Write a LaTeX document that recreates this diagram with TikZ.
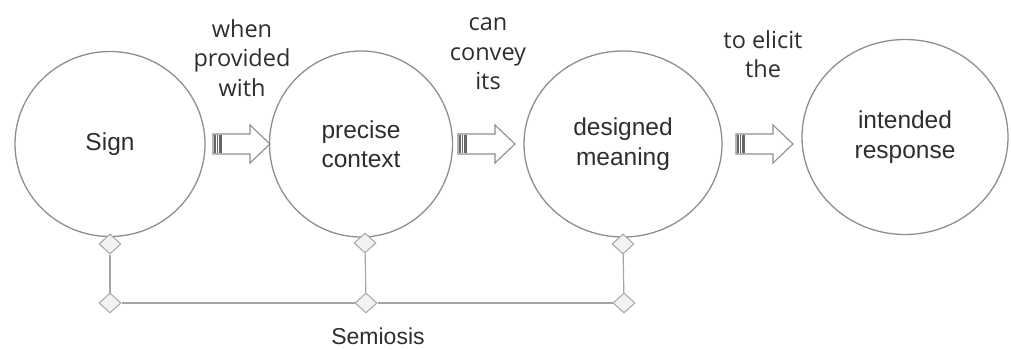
\documentclass[tikz,border=0pt]{standalone}
\usepackage{fontspec}
\setmainfont{Liberation Sans}
\newfontfamily\labfont{Open Sans}
\usetikzlibrary{shapes.geometric}
\definecolor{linegray}{HTML}{8E8E8E}
\definecolor{txtgray}{HTML}{2E2E2E}
\definecolor{dfill}{HTML}{F2F2F2}
\tikzset{
  bubble/.style={ellipse,draw=linegray,line width=1.3pt,inner sep=0pt,align=center,
    text=txtgray,font=\fontsize{24.5}{29.5}\selectfont},
  toplabel/.style={align=center,text=txtgray,inner sep=0pt,
    font=\labfont\fontsize{23.5}{29.5}\selectfont},
  arrowbody/.style={draw=linegray,line width=1.1pt,fill=white,line join=miter},
  hatch/.style={draw=black!60,line width=1.1pt},
  joint/.style={diamond,draw=linegray!80,line width=1pt,fill=dfill,
    minimum width=22pt,minimum height=20pt,inner sep=0pt},
  link/.style={draw=linegray!80,line width=1.2pt}
}
\begin{document}
\begin{tikzpicture}[x=1pt,y=-1pt]
\useasboundingbox (0,0) rectangle (1011,350);
% circles
\node[bubble,minimum width=190pt,minimum height=185pt] (sign) at (110,144) {Sign};
\node[bubble,minimum width=183pt,minimum height=186pt] (ctx) at (361,144) {precise\\context};
\node[bubble,minimum width=198pt,minimum height=186pt] (mean) at (623,144) {designed\\meaning};
\node[bubble,minimum width=206pt,minimum height=195pt] (resp) at (905,137) {intended\\response};
% top labels
\node[toplabel] (l1) at (242,58) {when\\provided\\with};
\node[toplabel] (l2) at (488,54) {can\\convey\\its};
\node[toplabel] (l3) at (763,54) {to elicit\\the};
% block arrows (tail points)
\coordinate (a1) at (213,144);
\coordinate (a2) at (458,144);
\coordinate (a3) at (736,144);
\foreach \a in {a1,a2,a3}{
  \draw[arrowbody] (\a) ++(0,-10) -- ++(37,0) -- ++(0,-9) -- ++(20,19)
     -- ++(-20,19) -- ++(0,-9) -- ++(-37,0) -- cycle;
  \foreach \k in {0,...,4}{
    \draw[hatch] (\a) ++(1.2+\k*1.7,-9.4) -- ++(0,18.8);
  }
}
% semiosis joints
\node[joint] (t1) at (110,244) {};
\node[joint] (t2) at (365,243) {};
\node[joint] (t3) at (623,244) {};
\node[joint] (b1) at (110,303) {};
\node[joint] (b2) at (366,303) {};
\node[joint] (b3) at (624,303) {};
\draw[link] (t1) -- (b1);
\draw[link] (t2) -- (b2);
\draw[link] (t3) -- (b3);
\draw[link] (b1) -- (b2);
\draw[link] (b2) -- (b3);
\node[text=txtgray,font=\fontsize{23}{27}\selectfont,inner sep=0pt] (sem) at (378,336) {Semiosis};
\end{tikzpicture}
\end{document}
